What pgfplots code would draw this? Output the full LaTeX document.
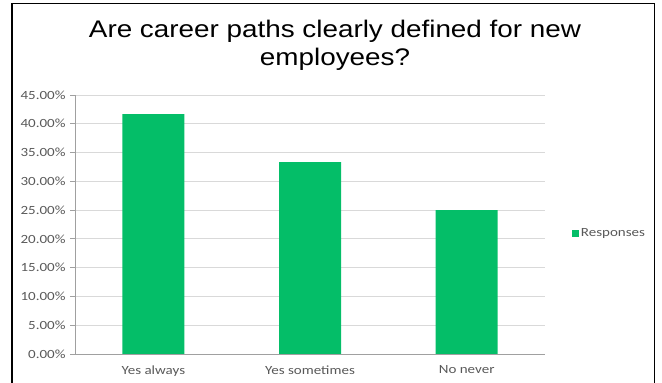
\documentclass[border=0pt]{standalone}
\usepackage{pgfplots}
\pgfplotsset{compat=1.18}
\usepackage{fontspec}
\setmainfont{Carlito}
\newfontfamily\titlefont[FakeStretch=1.16]{Liberation Sans}
\newfontfamily\labelfont[FakeStretch=1.2]{Carlito}

\definecolor{barcolor}{RGB}{4,190,104}
\definecolor{gridgray}{RGB}{217,217,217}
\definecolor{axisgray}{RGB}{160,160,160}
\definecolor{textgray}{RGB}{89,89,89}

\begin{document}
\begin{tikzpicture}
  \begin{axis}[
    at={(75bp,29bp)}, anchor=south west,
    width=470bp, height=259bp, scale only axis,
    xmin=-0.5, xmax=2.5, ymin=0, ymax=45,
    xtick={0,1,2},
    xticklabels={Yes always, Yes sometimes, No never},
    extra x ticks={-0.5,0.5,1.5,2.5},
    extra x tick labels={},
    extra x tick style={major tick length=5bp, tick style={axisgray, line width=0.8bp}, grid=none},
    ytick={0,5,...,45},
    yticklabels={0.00\%,5.00\%,10.00\%,15.00\%,20.00\%,25.00\%,30.00\%,35.00\%,40.00\%,45.00\%},
    ymajorgrids, grid style={gridgray, line width=0.9bp},
    axis x line*=bottom, axis y line*=left,
    axis line style={axisgray, line width=0.8bp, -},
    tick align=outside,
    x tick style={draw=none},
    y tick style={axisgray, line width=0.8bp},
    major tick length=5bp,
    ticklabel style={text=textgray, font=\labelfont\fontsize{12.5bp}{14bp}\selectfont},
    yticklabel style={xshift=-1bp},
    xticklabel style={yshift=-3bp},
    ybar, bar width=62bp,
    legend style={at={(axis description cs:1.057,0.467)}, anchor=west, draw=none, fill=none,
      font=\labelfont\fontsize{12.5bp}{14bp}\selectfont, text=textgray, inner sep=0pt,
      legend cell align=left},
    legend image code/.code={\fill[barcolor] (0bp,-3.5bp) rectangle (7bp,3.5bp);},
  ]
    \addplot[fill=barcolor, draw=none] coordinates {(0,41.67) (1,33.33) (2,25.00)};
    \addlegendentry{Responses}
  \end{axis}
  % chart frame and title, in the same bp grid as the page
  \begin{scope}[x=1bp,y=1bp]
    \draw[black, line width=1.3bp] (12,0) -- (12,379.5) -- (654.5,379.5) -- (654.5,0);
    \node[anchor=base, text=black, font=\titlefont\fontsize{24bp}{28bp}\selectfont] at (335,346) {Are career paths clearly defined for new};
    \node[anchor=base, text=black, font=\titlefont\fontsize{24bp}{28bp}\selectfont] at (335,318) {employees?};
  \end{scope}
  \pgfresetboundingbox
  \path[use as bounding box] (0bp,0bp) rectangle (662bp,383bp);
\end{tikzpicture}
\end{document}
